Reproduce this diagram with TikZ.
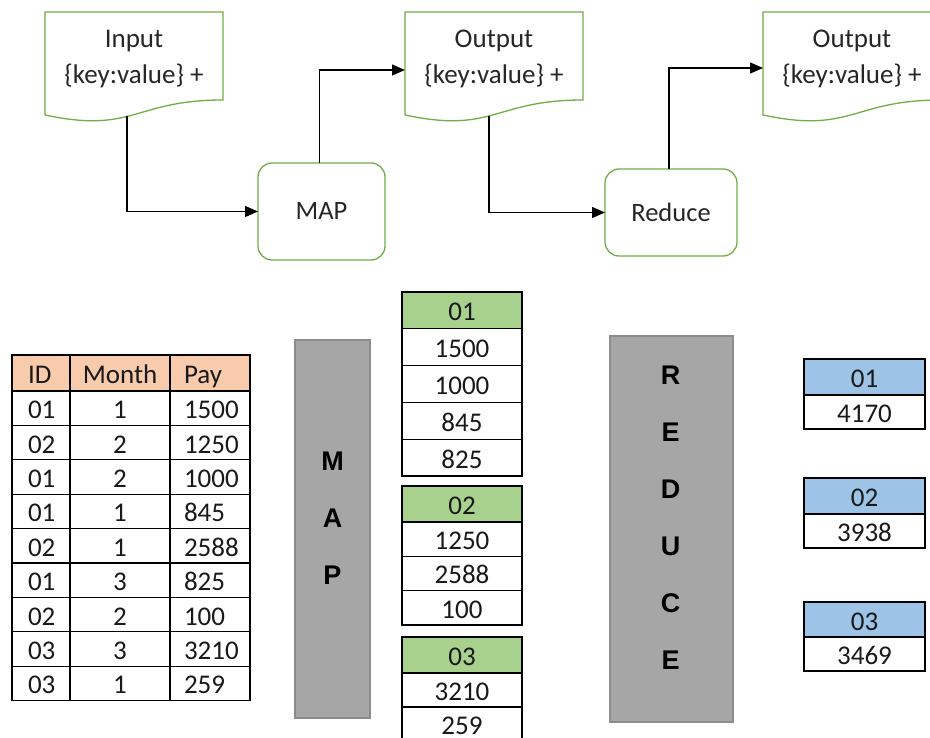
\documentclass[tikz,border=0pt]{standalone}
\usepackage{fontspec}
\setmainfont{Carlito}
\newfontfamily\barfont{Liberation Sans}
\usepackage{xcolor}
\usepackage{tikz}
\usetikzlibrary{arrows.meta}
\usetikzlibrary{shapes,fit,calc,positioning}

\definecolor{docgreen}{RGB}{112,173,71}
\definecolor{hdrpeach}{RGB}{248,203,173}
\definecolor{keygreen}{RGB}{169,209,142}
\definecolor{keyblue}{RGB}{157,195,230}
\definecolor{barfill}{RGB}{166,166,166}
\definecolor{barline}{RGB}{140,140,140}

\tikzset{
  doc/.style={minimum width=178pt, minimum height=94pt, align=center, inner sep=0pt, outer sep=0pt,
    font=\fontsize{27}{36}\selectfont, text=black!85},
  docline/.style={draw=docgreen, line width=1.3pt},
  proc/.style={draw=docgreen, line width=1.3pt, rounded corners=14pt, inner sep=0pt, outer sep=0pt,
    font=\fontsize{26.5}{30}\selectfont, text=black!85},
  flow/.style={->, line width=1.3pt},
  cell/.style={draw, line width=1.2pt, inner sep=0pt, outer sep=0pt, text height=24pt, text depth=3pt,
    font=\fontsize{27}{30}\selectfont, text=black!90},
  idcol/.style={cell, minimum height=34.4pt, inner xsep=16pt, text width=26pt, align=left},
  moncol/.style={cell, minimum height=34.4pt, minimum width=100pt},
  paycol/.style={cell, minimum height=34.4pt, inner xsep=14pt, text width=52pt, align=left},
  grp/.style={cell, minimum width=120pt, minimum height=34pt},
  res/.style={cell, minimum width=121pt, minimum height=34pt},
  bar/.style={fill=barfill, draw=barline, line width=1.2pt, inner sep=0pt, outer sep=0pt},
  bartxt/.style={align=center, inner sep=0pt, font=\barfont\bfseries\fontsize{27}{57}\selectfont}
}

\begin{document}
\begin{tikzpicture}[>={Triangle[length=13pt,width=11pt]}]

\coordinate(O1) at (0,0);
\useasboundingbox (O1) rectangle (930pt,-738pt);
\clip (O1) rectangle (930pt,-738pt);

% top flow
\node[doc, below right=12pt and 45pt of O1](inp) {Input\\\{key:value\} +};
\node[doc, below right=12pt and 405pt of O1](out1) {Output\\\{key:value\} +};
\node[doc, below right=12pt and 763pt of O1](out2) {Output\\\{key:value\} +};
\foreach \d in {inp,out1,out2}
  \draw[docline] ([yshift=-9pt]\d.south west) -- (\d.north west) -- (\d.north east) -- ([yshift=6pt]\d.south east)
    .. controls +(-89pt,0pt) and +(89pt,-19pt) .. ([yshift=-9pt]\d.south west) -- cycle;

\node[proc, minimum width=127pt, minimum height=97pt, below right=163pt and 258pt of O1](map) {MAP};
\node[proc, minimum width=132pt, minimum height=87pt, below right=169pt and 605pt of O1](red) {Reduce};

\draw[flow] ([xshift=-7pt,yshift=-10pt]inp.south) |- (map);
\draw[flow] ([xshift=-2pt]map.north) |- ([yshift=-11pt]out1.west);
\draw[flow] ([xshift=-5pt,yshift=-10pt]out1.south) |- (red);
\draw[flow] ([xshift=-2pt]red.north) |- ([yshift=-9pt]out2.west);

% input table
\node[idcol, fill=hdrpeach, minimum height=36pt, below right=355pt and 12pt of O1](h1) {ID};
\node[moncol, fill=hdrpeach, minimum height=36pt, right=0pt of h1](h2) {Month};
\node[paycol, fill=hdrpeach, minimum height=36pt, right=0pt of h2](h3) {Pay};
\foreach \i/\a/\b/\c [evaluate=\i as \y using 391+34.4*(\i-1)] in
  {1/01/1/1500, 2/02/2/1250, 3/01/2/1000, 4/01/1/845, 5/02/1/2588,
   6/01/3/825, 7/02/2/100, 8/03/3/3210, 9/03/1/259}{
  \node[idcol, below right=\y pt and 12pt of O1](r\i-1) {\a};
  \node[moncol, right=0pt of r\i-1](r\i-2) {\b};
  \node[paycol, right=0pt of r\i-2](r\i-3) {\c};
}

% map
\node[bar, minimum width=75pt, minimum height=378pt, below right=340pt and 295pt of O1](mapbar) {};
\node[bartxt](maptxt) at ([yshift=11pt]mapbar.center) {M\\A\\P};

% grouped keys
\node[grp, fill=keygreen, minimum height=36.8pt, below right=292pt and 402pt of O1](g1) {01};
\node[grp, minimum height=36.8pt, below=0pt of g1](g1a) {1500};
\node[grp, minimum height=36.8pt, below=0pt of g1a](g1b) {1000};
\node[grp, minimum height=36.8pt, below=0pt of g1b](g1c) {845};
\node[grp, minimum height=36.8pt, below=0pt of g1c](g1d) {825};

\node[grp, fill=keygreen, minimum height=36pt, below right=486pt and 402pt of O1](g2) {02};
\node[grp, minimum height=34.3pt, below=0pt of g2](g2a) {1250};
\node[grp, minimum height=34.3pt, below=0pt of g2a](g2b) {2588};
\node[grp, minimum height=34.3pt, below=0pt of g2b](g2c) {100};

\node[grp, fill=keygreen, minimum height=36pt, below right=637pt and 402pt of O1](g3) {03};
\node[grp, below=0pt of g3](g3a) {3210};
\node[grp, below=0pt of g3a](g3b) {259};

% reduce
\node[bar, minimum width=123pt, minimum height=386pt, below right=336pt and 610pt of O1](redbar) {};
\node[bartxt](redtxt) at ([xshift=-1pt,yshift=11.5pt]redbar.center) {R\\E\\D\\U\\C\\E};

% results
\node[res, fill=keyblue, minimum height=36pt, below right=359pt and 804pt of O1](s1) {01};
\node[res, below=0pt of s1](s1a) {4170};
\node[res, fill=keyblue, minimum height=36pt, below right=478pt and 804pt of O1](s2) {02};
\node[res, below=0pt of s2](s2a) {3938};
\node[res, fill=keyblue, minimum height=35pt, below right=602pt and 804pt of O1](s3) {03};
\node[res, below=0pt of s3](s3a) {3469};
\end{tikzpicture}
\end{document}
